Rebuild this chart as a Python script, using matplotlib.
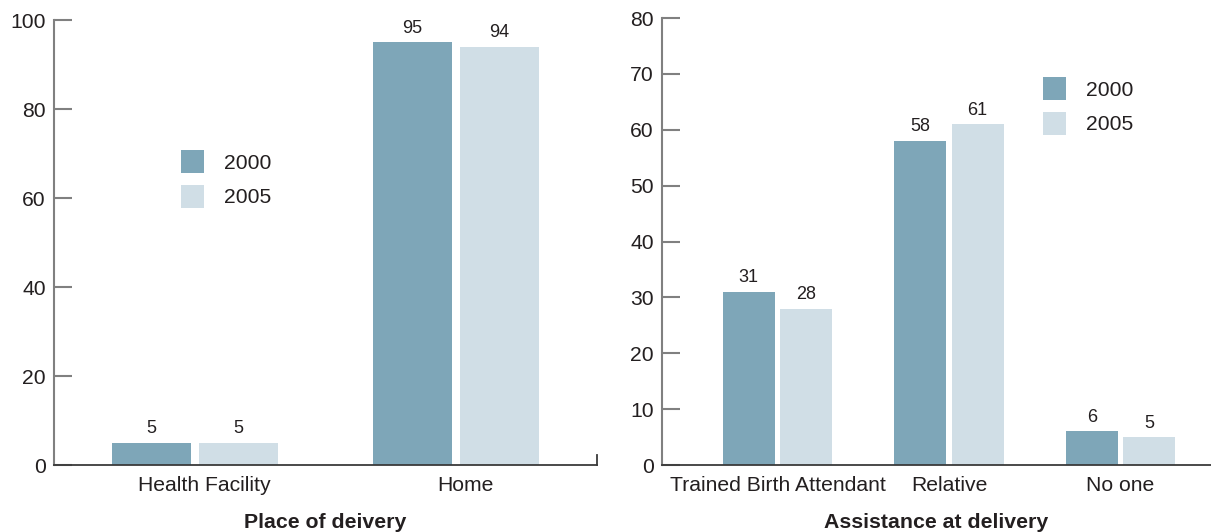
import numpy as np
import matplotlib
matplotlib.use('Agg')
import matplotlib.pyplot as plt

plt.rcParams['font.family'] = ['Liberation Sans', 'DejaVu Sans']
plt.rcParams['text.color'] = '#231f20'

years = ['2000', '2005']
colors = ['#7ea6b8', '#d0dee6']

place_cats = ['Health Facility', 'Home']
place_2000 = [5, 95]
place_2005 = [5, 94]

assist_cats = ['Trained Birth Attendant', 'Relative', 'No one']
assist_2000 = [31, 58, 6]
assist_2005 = [28, 61, 5]

bar_w = 0.303
off = 0.167
txt = '#231f20'


def draw_panel(ax, cats, s2000, s2005, ymax, ystep, xlim, title, leg_xy, lab_shift):
    x = np.arange(len(cats))
    for vals, c, y, d in [(s2000, colors[0], years[0], -off), (s2005, colors[1], years[1], off)]:
        bars = ax.bar(x + d, vals, bar_w, color=c, label=y, zorder=2)
        for b, v in zip(bars, vals):
            ax.annotate(str(v), (b.get_x() + b.get_width() / 2, v), xytext=(0, 4),
                        textcoords='offset points', ha='center', va='bottom',
                        fontsize=13, color=txt)
    ax.set_xlim(*xlim)
    ax.set_ylim(0, ymax)
    ax.set_yticks(np.arange(0, ymax + 1, ystep))
    ax.set_xticks(x + lab_shift)
    ax.set_xticklabels(cats)
    ax.tick_params(axis='x', length=0, pad=8, labelsize=15.2, labelcolor=txt)
    ax.tick_params(axis='y', direction='in', length=13, width=1.5, color='#808080',
                   pad=6, labelsize=15.2, labelcolor=txt)
    for s in ['top', 'right']:
        ax.spines[s].set_visible(False)
    ax.spines['left'].set_color('#808080')
    ax.spines['left'].set_linewidth(1.5)
    ax.spines['bottom'].set_color('#3a3a3a')
    ax.spines['bottom'].set_linewidth(1.3)
    ax.set_xlabel(title, fontsize=15.3, fontweight='bold', color=txt, labelpad=13)
    # square swatches, ~23 px each
    ax.legend(loc='upper left', bbox_to_anchor=leg_xy, frameon=False, fontsize=15.2,
              handlelength=1.1, handleheight=1.3, labelspacing=0.55,
              handletextpad=0.95, borderpad=0, borderaxespad=0)


fig = plt.figure(figsize=(12.11, 5.32), dpi=100)
ax1 = fig.add_axes([0.0446, 0.1259, 0.4484, 0.8365])
ax2 = fig.add_axes([0.5467, 0.1259, 0.4533, 0.8402])

draw_panel(ax1, place_cats, place_2000, place_2005, 100, 20, (-0.54, 1.54),
           'Place of deivery', (0.234, 0.708), 0.035)
ax1.spines['right'].set_visible(True)
ax1.spines['right'].set_bounds(0, 2.3)
ax1.spines['right'].set_color('#3a3a3a')
ax1.spines['right'].set_linewidth(1.3)

draw_panel(ax2, assist_cats, assist_2000, assist_2005, 80, 10, (-0.673, 2.528),
           'Assistance at delivery', (0.694, 0.868), 0.0)

fig.savefig('out.png', dpi=100)
